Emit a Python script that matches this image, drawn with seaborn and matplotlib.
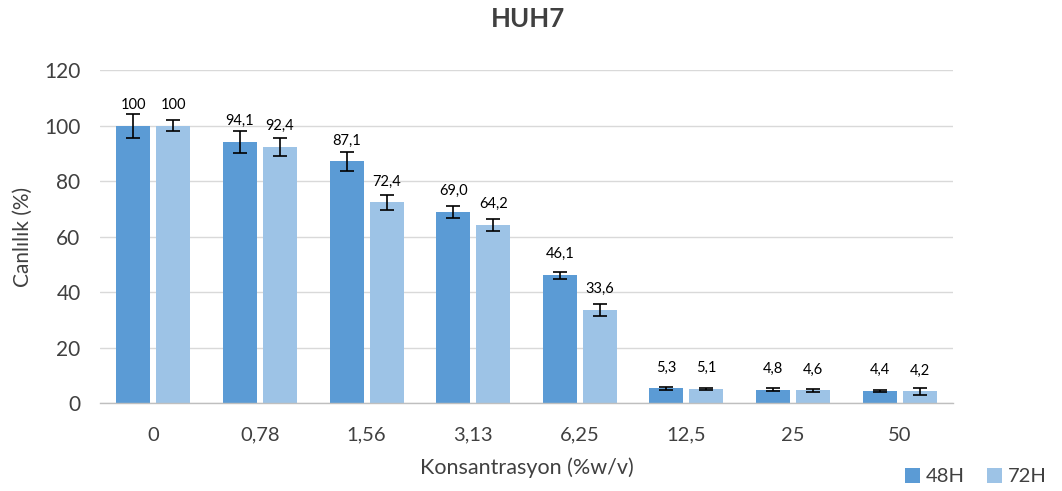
import matplotlib
matplotlib.use("Agg")
import matplotlib.pyplot as plt
import seaborn as sns
import pandas as pd
import numpy as np
from matplotlib.patches import Patch

categories = ["0", "0,78", "1,56", "3,13", "6,25", "12,5", "25", "50"]
series_names = ["48H", "72H"]
values_48 = [100, 94.1, 87.1, 69.0, 46.1, 5.3, 4.8, 4.4]
values_72 = [100, 92.4, 72.4, 64.2, 33.6, 5.1, 4.6, 4.2]
errors_48 = [4.3, 4.0, 3.4, 2.2, 1.3, 0.5, 0.5, 0.3]
errors_72 = [2.0, 3.3, 2.7, 2.3, 2.3, 0.5, 0.5, 1.2]
labels_48 = ["100", "94,1", "87,1", "69,0", "46,1", "5,3", "4,8", "4,4"]
labels_72 = ["100", "92,4", "72,4", "64,2", "33,6", "5,1", "4,6", "4,2"]
colors = ["#5B9BD5", "#9DC3E6"]

df = pd.DataFrame({
    "Konsantrasyon": categories * 2,
    "Seri": [series_names[0]] * len(categories) + [series_names[1]] * len(categories),
    "Canlilik": values_48 + values_72,
})

sns.set_theme(style="white")
plt.rcParams["font.family"] = ["Lato", "DejaVu Sans"]

fig = plt.figure(figsize=(10.62, 4.91), dpi=100)
ax = fig.add_axes([0.0942, 0.179, 0.8032, 0.678])

sns.barplot(data=df, x="Konsantrasyon", y="Canlilik", hue="Seri",
            order=categories, hue_order=series_names, palette=colors,
            width=0.75, gap=0.15, errorbar=None, ax=ax, legend=False,
            saturation=1, linewidth=0)

for cont, vals, errs, labs in zip(ax.containers, [values_48, values_72],
                                  [errors_48, errors_72], [labels_48, labels_72]):
    xs = [p.get_x() + p.get_width() / 2 for p in cont.patches]
    ax.errorbar(xs, vals, yerr=errs, fmt="none", ecolor="black",
                elinewidth=1.2, capsize=5, capthick=1.2, zorder=5)
    for x, v, lab in zip(xs, vals, labs):
        ax.annotate(lab, (x, v), xytext=(0, 15), textcoords="offset points",
                    ha="center", va="center", fontsize=10.5, color="#000000")

ax.set_ylim(0, 120)
ax.set_yticks(range(0, 121, 20))
ax.set_xlim(-0.5, 7.5)
ax.yaxis.grid(True, color="#D9D9D9", linewidth=1)
ax.set_axisbelow(True)
for s in ["top", "right", "left"]:
    ax.spines[s].set_visible(False)
ax.spines["bottom"].set_color("#BFBFBF")
ax.spines["bottom"].set_linewidth(1)
ax.tick_params(axis="x", length=0, labelsize=14.5, labelcolor="#404040", pad=17)
ax.tick_params(axis="y", length=0, labelsize=15, labelcolor="#404040", pad=14)
ax.set_xlabel("Konsantrasyon (%w/v)", fontsize=15.5, color="#404040", labelpad=10)
ax.set_ylabel("Canlılık (%)", fontsize=15, color="#404040", labelpad=8)
fig.suptitle("HUH7", fontsize=18.5, fontweight="bold", color="#404040", x=0.497, y=0.985)

handles = [Patch(facecolor=c, edgecolor="none") for c in colors]
fig.legend(handles, series_names, loc="lower right", bbox_to_anchor=(1.003, -0.025),
           ncol=2, frameon=False, fontsize=14.5, handlelength=0.75, handleheight=0.75,
           handletextpad=0.3, columnspacing=1.1, labelcolor="#404040")

fig.savefig("out.png", dpi=100)
